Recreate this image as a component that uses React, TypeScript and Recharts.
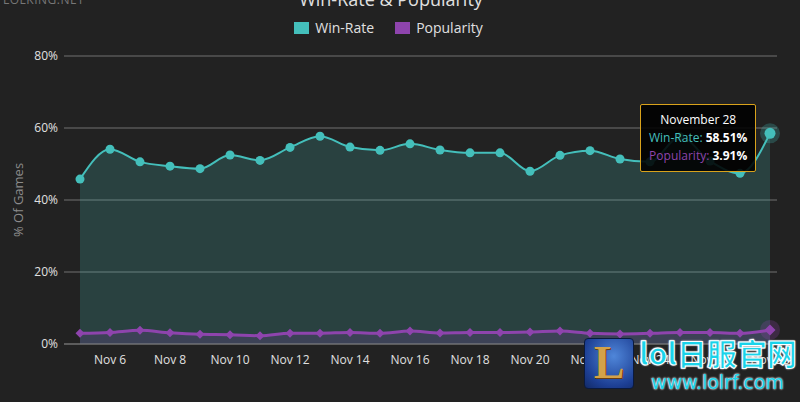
import React from "react";
import {
  ComposedChart,
  Area,
  XAxis,
  YAxis,
  CartesianGrid,
  Tooltip,
  Legend,
} from "recharts";

// data (November, % of games)
const days = [5, 6, 7, 8, 9, 10, 11, 12, 13, 14, 15, 16, 17, 18, 19, 20, 21, 22, 23, 24, 25, 26, 27, 28];
const winRate = [
  45.8, 54.1, 50.6, 49.4, 48.7, 52.5, 51.0, 54.6, 57.7, 54.7, 53.8, 55.6,
  53.9, 53.1, 53.1, 48.0, 52.4, 53.7, 51.4, 50.6, 57.6, 50.8, 47.4, 58.51,
];
const popularity = [
  2.96, 3.2, 3.8, 3.1, 2.7, 2.6, 2.3, 3.0, 3.0, 3.2, 2.96, 3.6,
  3.05, 3.2, 3.2, 3.3, 3.6, 3.0, 2.8, 2.96, 3.2, 3.2, 2.96, 3.91,
];
const xTicks = [6, 8, 10, 12, 14, 16, 18, 20, 22, 24, 26, 28];
const yTicks = [0, 20, 40, 60, 80];

const TEAL = "#44bfbb";
const PURPLE = "#8e44ad";
const FONT = "'Open Sans', 'DejaVu Sans', sans-serif";

const chartData = days.map((d, i) => ({
  day: d,
  winRate: winRate[i],
  popularity: popularity[i],
}));

const Diamond = ({ cx, cy, r = 4, fill }: any) => {
  if (cx == null || cy == null) return null;
  return (
    <path
      d={`M${cx},${cy - r} L${cx + r},${cy} L${cx},${cy + r} L${cx - r},${cy} Z`}
      fill={fill}
    />
  );
};

const renderWinDot = (props: any) => {
  const { cx, cy, index } = props;
  if (cx == null || cy == null) return <g key={index} />;
  return <circle key={index} cx={cx} cy={cy} r={4.5} fill={TEAL} />;
};

const renderPopDot = (props: any) => (
  <g key={props.index}>
    <Diamond cx={props.cx} cy={props.cy} r={4.5} fill={PURPLE} />
  </g>
);

const PopActiveDot = (props: any) => (
  <g>
    <circle cx={props.cx} cy={props.cy} r={10} fill={PURPLE} fillOpacity={0.25} />
    <Diamond cx={props.cx} cy={props.cy} r={5.5} fill={PURPLE} />
  </g>
);

const WinActiveDot = (props: any) => (
  <g>
    <circle cx={props.cx} cy={props.cy} r={10} fill={TEAL} fillOpacity={0.25} />
    <circle cx={props.cx} cy={props.cy} r={5.5} fill={TEAL} />
  </g>
);

const CustomTooltip = ({ active, payload, label }: any) => {
  if (!active || !payload || !payload.length) return null;
  const row = payload[0].payload;
  return (
    <div
      style={{
        background: "rgba(0,0,0,0.88)",
        border: "1px solid #d9a21b",
        borderRadius: 2,
        padding: "6px 8px",
        fontFamily: FONT,
        fontSize: 12,
        lineHeight: "18px",
        textAlign: "center",
        color: "#ffffff",
        whiteSpace: "nowrap",
      }}
    >
      <div>November {label ?? row.day}</div>
      <div>
        <span style={{ color: TEAL }}>Win-Rate: </span>
        <b>{row.winRate.toFixed(2)}%</b>
      </div>
      <div>
        <span style={{ color: PURPLE }}>Popularity: </span>
        <b>{row.popularity.toFixed(2)}%</b>
      </div>
    </div>
  );
};

const LegendContent = () => (
  <div
    style={{
      display: "flex",
      justifyContent: "center",
      gap: 21,
      fontFamily: FONT,
      fontSize: 14,
      color: "#e0e0e0",
    }}
  >
    {[
      { name: "Win-Rate", color: TEAL },
      { name: "Popularity", color: PURPLE },
    ].map((s) => (
      <div key={s.name} style={{ display: "flex", alignItems: "center" }}>
        <span
          style={{
            display: "inline-block",
            width: 15,
            height: 12,
            background: s.color,
            marginRight: 6,
          }}
        />
        {s.name}
      </div>
    ))}
  </div>
);

export default function App() {
  return (
    <div
      style={{
        position: "absolute",
        left: 0,
        top: 0,
        width: 800,
        height: 402,
        background: "#222222",
        overflow: "hidden",
        fontFamily: FONT,
      }}
    >
      <div
        style={{
          position: "absolute",
          left: 3,
          top: -9,
          fontSize: 12,
          color: "#777",
          letterSpacing: 0.5,
        }}
      >
        LOLKING.NET
      </div>
      <div
        style={{
          position: "absolute",
          left: 0,
          width: 782,
          top: -13,
          textAlign: "center",
          fontSize: 18,
          color: "#e0e0e0",
        }}
      >
        Win-Rate &amp; Popularity
      </div>

      <ComposedChart
        width={800}
        height={402}
        data={chartData}
        margin={{ top: 18, right: 23, bottom: 28, left: 0 }}
      >
        <Legend verticalAlign="top" height={38} content={<LegendContent />} />
        <CartesianGrid vertical={false} stroke="#707070" />
        <XAxis
          dataKey="day"
          type="number"
          domain={[5, 28]}
          ticks={xTicks}
          tickFormatter={(v) => `Nov ${v}`}
          padding={{ left: 16, right: 7 }}
          axisLine={{ stroke: "#707070" }}
          tickLine={false}
          tickSize={6}
          tickMargin={5}
          height={30}
          tick={{ fill: "#e0e0e0", fontSize: 12, fontFamily: FONT }}
        />
        <YAxis
          domain={[0, 80]}
          ticks={yTicks}
          tickFormatter={(v) => `${v}%`}
          axisLine={false}
          tickLine={false}
          tickSize={6}
          tickMargin={0}
          width={64}
          tick={{ fill: "#e0e0e0", fontSize: 12, fontFamily: FONT }}
          label={{
            value: "% Of Games",
            angle: -90,
            position: "insideLeft",
            offset: 18,
            style: { fill: "#8c8c8c", fontSize: 13, fontFamily: FONT, textAnchor: "middle" },
          }}
        />
        <Tooltip
          content={<CustomTooltip />}
          cursor={false}
          defaultIndex={23}
          active
          position={{ x: 640, y: 104 }}
          isAnimationActive={false}
          wrapperStyle={{ outline: "none" }}
        />
        <Area
          type="monotone"
          dataKey="winRate"
          name="Win-Rate"
          stroke={TEAL}
          strokeWidth={2}
          fill={TEAL}
          fillOpacity={0.2}
          dot={renderWinDot}
          activeDot={<WinActiveDot />}
          isAnimationActive={false}
        />
        <Area
          type="monotone"
          dataKey="popularity"
          name="Popularity"
          stroke={PURPLE}
          strokeWidth={3}
          fill={PURPLE}
          fillOpacity={0.2}
          dot={renderPopDot}
          activeDot={<PopActiveDot />}
          isAnimationActive={false}
        />
      </ComposedChart>

      {/* site watermark, bottom right */}
      <div
        style={{
          position: "absolute",
          left: 584,
          top: 338,
          width: 48,
          height: 49,
          borderRadius: 4,
          background: "radial-gradient(circle at 60% 35%, #4f86d9, #1d3f94 70%, #122a66)",
          border: "1px solid #0b1a3d",
          color: "#d4a24a",
          fontFamily: "'Liberation Serif', serif",
          fontWeight: "bold",
          fontSize: 46,
          lineHeight: "48px",
          textAlign: "center",
          textShadow: "1px 1px 0 #6b3d10",
        }}
      >
        L
      </div>
      <div
        style={{
          position: "absolute",
          left: 639,
          top: 332,
          fontFamily: "'Noto Sans CJK SC', sans-serif",
          fontWeight: "bold",
          fontSize: 30,
          color: "#19d3ea",
          WebkitTextStroke: "1px #ffffff",
          textShadow: "0 0 2px #fff, 0 0 2px #fff",
          lineHeight: "40px",
        }}
      >
        lol日服官网
      </div>
      <div
        style={{
          position: "absolute",
          left: 651,
          top: 370,
          fontFamily: "'DejaVu Sans', sans-serif",
          fontSize: 19,
          color: "#19d3ea",
          textShadow: "0 0 2px #fff, 0 0 2px #fff",
          lineHeight: "24px",
        }}
      >
        www.lolrf.com
      </div>
    </div>
  );
}
